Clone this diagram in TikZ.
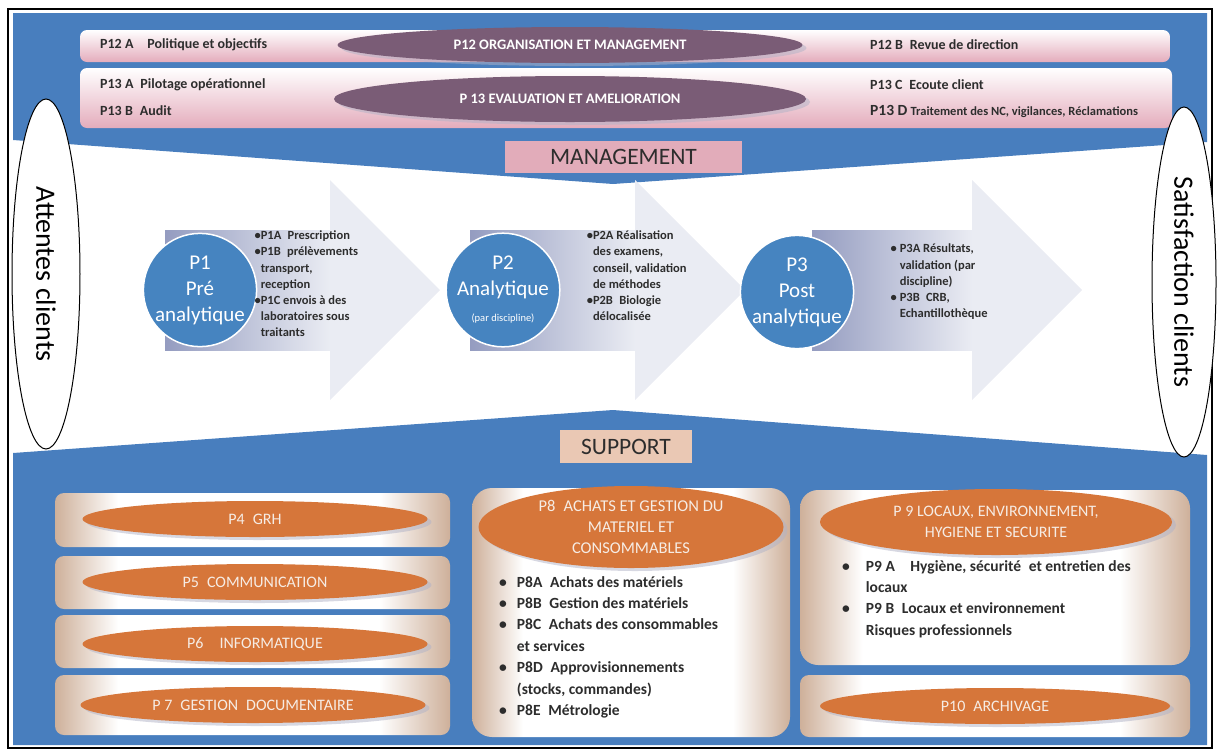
\documentclass[tikz,border=0pt]{standalone}
\usepackage{fontspec}
\setmainfont{Carlito}
\usetikzlibrary{positioning}
\usetikzlibrary{shapes.geometric}
\usetikzlibrary{shadows}

\definecolor{bandblue}{RGB}{72,126,190}
\definecolor{barpink}{RGB}{228,172,188}
\definecolor{mgmtpurple}{RGB}{122,92,118}
\definecolor{tagpink}{RGB}{226,172,186}
\definecolor{tagpeach}{RGB}{234,200,180}
\definecolor{supporange}{RGB}{214,118,58}
\definecolor{boxtan}{RGB}{206,176,154}
\definecolor{circblue}{RGB}{70,132,192}
\definecolor{arrowgrey}{RGB}{148,156,192}
\definecolor{arrowlight}{RGB}{234,236,243}
\definecolor{textgrey}{RGB}{45,45,45}
\definecolor{elltext}{RGB}{246,236,228}
\definecolor{shadowgrey}{RGB}{176,178,198}

\pgfdeclarehorizontalshading{boxshade}{100bp}{color(0bp)=(boxtan); color(25bp)=(boxtan); color(33bp)=(white); color(66bp)=(white); color(75bp)=(boxtan); color(100bp)=(boxtan)}

\begin{document}
\begin{tikzpicture}[x=1pt,y=-1pt,
    bar/.style={rounded corners=7pt, top color=white, bottom color=barpink},
    mgmtell/.style={ellipse, inner sep=0, fill=mgmtpurple, text=white,
      font=\bfseries\fontsize{14.5}{17}\selectfont,
      drop shadow={shadow xshift=4pt, shadow yshift=-3pt, fill=shadowgrey}},
    barlabel/.style={anchor=west, inner sep=0, text=textgrey, font=\bfseries\fontsize{14}{16}\selectfont},
    tag/.style={inner sep=0, text=textgrey, font=\fontsize{23.5}{26}\selectfont},
    sideell/.style={ellipse, draw, line width=1pt, fill=white, inner sep=0, rotate=-90,
      font=\fontsize{28}{32}\selectfont},
    procbody/.style={left color=arrowgrey, right color=arrowlight},
    pcircle/.style={circle, fill=circblue, draw=white, line width=1.5pt, minimum size=100,
      inner sep=0, text=white, align=center, font=\fontsize{21}{26}\selectfont},
    bullets/.style={anchor=west, inner sep=0, text=textgrey, font=\bfseries\fontsize{12.5}{16.2}\selectfont},
    suppbox/.style={rounded corners=9pt, shading=boxshade},
    suppell/.style={ellipse, inner sep=0, fill=supporange, text=elltext, align=center,
      font=\fontsize{16}{21}\selectfont,
      drop shadow={shadow xshift=4pt, shadow yshift=-3pt, fill=shadowgrey}},
    listtext/.style={anchor=north west, inner sep=0, text=textgrey, font=\bfseries\fontsize{15.5}{21.4}\selectfont}
  ]
  \useasboundingbox (0,0) rectangle (1220,753);

  % Define the corners of the two blue bands
  \coordinate (tl) at (13,13);
  \coordinate (tr) at (1207,13);
  \coordinate (mr) at (1207,142);
  \coordinate (mv) at (613,184);
  \coordinate (ml) at (13,140);
  \coordinate (sl) at (13,453);
  \coordinate (sv) at (613,410);
  \coordinate (sr) at (1207,455);
  \coordinate (br) at (1207,745);
  \coordinate (bl) at (13,745);

  % Draw the bands
  \fill[bandblue] (tl) -- (tr) -- (mr) -- (mv) -- (ml) -- cycle;
  \fill[bandblue] (sl) -- (sv) -- (sr) -- (br) -- (bl) -- cycle;
  \draw[line width=2.5pt] (8,9) rectangle (1212,748);

  % Management bars
  \node[bar, minimum width=1090, minimum height=32] (bar12) at (625,46) {};
  \node[bar, minimum width=1092, minimum height=60] (bar13) at (626,98) {};
  \node[mgmtell, minimum width=465, minimum height=36] (p12) at (570,45) {P12 ORGANISATION ET MANAGEMENT};
  \node[mgmtell, minimum width=472, minimum height=46] (p13) at (570,99) {P 13 EVALUATION ET AMELIORATION};

  \node[barlabel] (p12a) at (100,45) {P12 A\quad Politique et objectifs};
  \node[barlabel] (p12b) at (870,45) {P12 B\enspace Revue de direction};
  \node[barlabel] (p13a) at (100,85) {P13 A\enspace Pilotage opérationnel};
  \node[barlabel] (p13b) at (100,111) {P13 B\enspace Audit};
  \node[barlabel] (p13c) at (870,85) {P13 C\enspace Ecoute client};
  \node[barlabel] (p13d) at (870,111) {{\fontsize{15.5}{17}\selectfont P13 D} {\fontsize{12.5}{14}\selectfont Traitement des NC, vigilances, Réclamations}};

  \node[tag, fill=tagpink, minimum width=237, minimum height=32] (mgmt) at (623.5,157) {MANAGEMENT};
  \node[tag, fill=tagpeach, minimum width=132, minimum height=33] (support) at (626,446.5) {SUPPORT};

  % Clients on both sides
  \node[sideell, minimum width=350, minimum height=68] (attentes) at (46,274) {Attentes clients};
  \node[sideell, minimum width=350, minimum height=64] (satisf) at (1184,282) {Satisfaction clients};

  % Process arrows
  \foreach \tail/\tip in {165/440, 470/745, 812/1082} {
    \fill[arrowlight] (\tail,230) -- (\tip-110,230) -- (\tip-110,180) -- (\tip,290)
      -- (\tip-110,400) -- (\tip-110,350) -- (\tail,350) -- cycle;
    \fill[procbody] (\tail,230) rectangle (\tip-110,350);
  }

  \node[pcircle] (p1) at (200,290) {P1\\Pré\\analytique};
  \node[pcircle] (p2) at (503,290) {P2\\Analytique\\{\fontsize{10.5}{12}\selectfont(par discipline)}};
  \node[pcircle] (p3) at (797,292) {P3\\Post\\analytique};

  \node[bullets, right=-3pt of p1, yshift=5pt] (p1txt) {\begin{tabular}{@{}l@{}l@{}}
    \textbullet&P1A\enspace Prescription\\
    \textbullet&P1B\enspace prélèvements\\
    &transport,\\
    &reception\\
    \textbullet&P1C envois à des\\
    &laboratoires sous\\
    &traitants\end{tabular}};
  \node[bullets, right=26pt of p2, yshift=13pt] (p2txt) {\begin{tabular}{@{}l@{}l@{}}
    \textbullet&P2A Réalisation\\
    &des examens,\\
    &conseil, validation\\
    &de méthodes\\
    \textbullet&P2B\enspace Biologie\\
    &délocalisée\end{tabular}};
  \node[bullets, right=36pt of p3, yshift=10pt] (p3txt) {\begin{tabular}{@{}l@{\hspace{3pt}}l@{}}
    \textbullet&P3A Résultats,\\
    &validation (par\\
    &discipline)\\
    \textbullet&P3B\enspace CRB,\\
    &Echantillothèque\end{tabular}};

  % Support boxes
  \shade[suppbox] (55,493) rectangle (450,547);
  \shade[suppbox] (55,556) rectangle (450,609);
  \shade[suppbox] (55,615) rectangle (450,668);
  \shade[suppbox] (55,675) rectangle (450,735);
  \shade[suppbox, rounded corners=20pt] (472,488) rectangle (790,737);
  \shade[suppbox, rounded corners=18pt] (800,490) rectangle (1190,665);
  \shade[suppbox] (800,675) rectangle (1190,737);

  \node[suppell, minimum width=345, minimum height=36] (p4) at (255,519) {P4\enspace GRH};
  \node[suppell, minimum width=345, minimum height=36] (p5) at (255,582) {P5\enspace COMMUNICATION};
  \node[suppell, minimum width=345, minimum height=36] (p6) at (255,644) {P6\quad INFORMATIQUE};
  \node[suppell, minimum width=345, minimum height=36] (p7) at (253,705) {P 7\enspace GESTION\enspace DOCUMENTAIRE};
  \node[suppell, minimum width=305, minimum height=82, font=\fontsize{16.5}{21}\selectfont] (p8) at (631,527) {P8\enspace ACHATS ET GESTION DU\\MATERIEL ET\\CONSOMMABLES};
  \node[suppell, minimum width=352, minimum height=66, font=\fontsize{16}{21}\selectfont] (p9) at (996,522) {P 9 LOCAUX, ENVIRONNEMENT,\\HYGIENE ET SECURITE};
  \node[suppell, minimum width=350, minimum height=36] (p10) at (995,706) {P10\enspace ARCHIVAGE};

  \node[listtext] (p8list) at (499,572) {\begin{tabular}{@{}l@{\hspace{10pt}}l@{}}
    \textbullet&P8A\enspace Achats des matériels\\
    \textbullet&P8B\enspace Gestion des matériels\\
    \textbullet&P8C\enspace Achats des consommables\\
    &et services\\
    \textbullet&P8D\enspace Approvisionnements\\
    &(stocks, commandes)\\
    \textbullet&P8E\enspace Métrologie\end{tabular}};
  \node[listtext] (p9list) at (842,556) {\begin{tabular}{@{}l@{\hspace{16pt}}l@{}}
    \textbullet&P9 A\quad Hygiène, sécurité\enspace et entretien des\\
    &locaux\\
    \textbullet&P9 B\enspace Locaux et environnement\\
    &Risques professionnels\end{tabular}};
\end{tikzpicture}
\end{document}
